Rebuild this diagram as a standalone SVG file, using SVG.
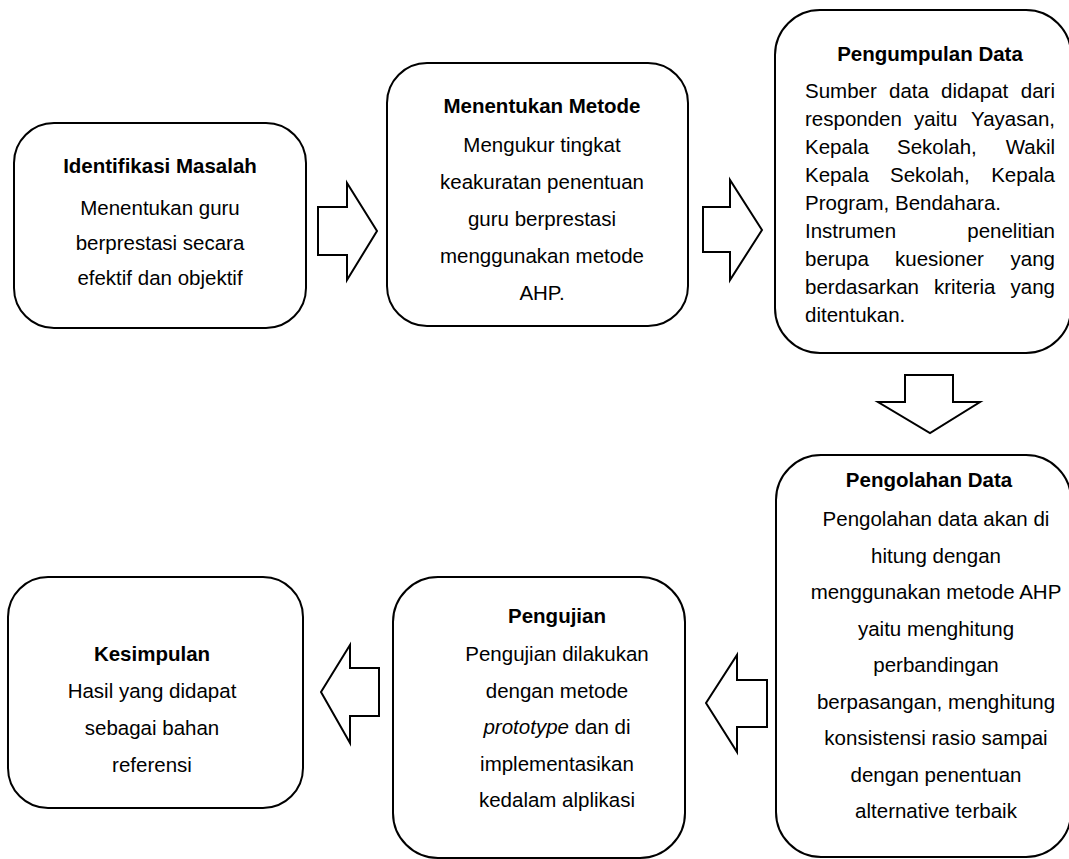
<svg xmlns="http://www.w3.org/2000/svg" width="1069" height="859" viewBox="0 0 1069 859">
<style>
.box{fill:#fff;stroke:#000;stroke-width:2}
.arr{fill:#fff;stroke:#000;stroke-width:2;stroke-linejoin:miter}
text{font-family:"Liberation Sans",Arial,sans-serif;font-size:20.5px;fill:#000}
.c{text-anchor:middle}
.t{font-weight:bold}
.e{text-anchor:end}
</style>
<rect width="1069" height="859" fill="#fff"/>
<g id="n1">
<rect class="box" x="14" y="123" width="292" height="205" rx="40"/>
<text class="c t" x="160" y="173">Identifikasi Masalah</text>
<text class="c" x="160" y="215">Menentukan guru</text>
<text class="c" x="160" y="250">berprestasi secara</text>
<text class="c" x="160" y="285">efektif dan objektif</text>
</g>
<g id="n2">
<rect class="box" x="387" y="63" width="301" height="263" rx="40"/>
<text class="c t" x="542" y="113">Menentukan Metode</text>
<text class="c" x="542" y="152">Mengukur  tingkat</text>
<text class="c" x="542" y="189">keakuratan penentuan</text>
<text class="c" x="542" y="226">guru berprestasi</text>
<text class="c" x="542" y="263">menggunakan metode</text>
<text class="c" x="542" y="300">AHP.</text>
</g>
<g id="n3">
<rect class="box" x="775" y="10" width="296" height="343" rx="45"/>
<text class="c t" x="930" y="61">Pengumpulan Data</text>
<text x="805" y="98">Sumber</text><text x="889" y="98">data</text><text x="941" y="98">didapat</text><text class="e" x="1055" y="98">dari</text>
<text x="805" y="126">responden</text><text x="914" y="126">yaitu</text><text class="e" x="1055" y="126">Yayasan,</text>
<text x="805" y="154">Kepala</text><text x="897" y="154">Sekolah,</text><text class="e" x="1055" y="154">Wakil</text>
<text x="805" y="182">Kepala</text><text x="890" y="182">Sekolah,</text><text class="e" x="1055" y="182">Kepala</text>
<text x="805" y="210">Program, Bendahara.</text>
<text x="805" y="238">Instrumen</text><text class="e" x="1055" y="238">penelitian</text>
<text x="805" y="266">berupa</text><text x="895" y="266">kuesioner</text><text class="e" x="1055" y="266">yang</text>
<text x="805" y="294">berdasarkan</text><text x="934" y="294">kriteria</text><text class="e" x="1055" y="294">yang</text>
<text x="805" y="322">ditentukan.</text>
</g>
<g id="n4">
<rect class="box" x="776" y="455" width="295" height="402" rx="45"/>
<text class="c t" x="929" y="487">Pengolahan Data</text>
<text class="c" x="936" y="526">Pengolahan data akan di</text>
<text class="c" x="936" y="562.5">hitung dengan</text>
<text class="c" x="936" y="599">menggunakan metode AHP</text>
<text class="c" x="936" y="635.5">yaitu menghitung</text>
<text class="c" x="936" y="672">perbandingan</text>
<text class="c" x="936" y="708.5">berpasangan, menghitung</text>
<text class="c" x="936" y="745">konsistensi rasio sampai</text>
<text class="c" x="936" y="781.5">dengan penentuan</text>
<text class="c" x="936" y="818">alternative terbaik</text>
</g>
<g id="n5">
<rect class="box" x="393" y="577" width="292" height="281" rx="45"/>
<text class="c t" x="557" y="623">Pengujian</text>
<text class="c" x="557" y="661">Pengujian dilakukan</text>
<text class="c" x="557" y="697.5">dengan metode</text>
<text class="c" x="557" y="734"><tspan font-style="italic">prototype</tspan> dan di</text>
<text class="c" x="557" y="770.5">implementasikan</text>
<text class="c" x="557" y="807">kedalam alplikasi</text>
</g>
<g id="n6">
<rect class="box" x="8" y="577" width="295" height="231" rx="40"/>
<text class="c t" x="152" y="661">Kesimpulan</text>
<text class="c" x="152" y="698">Hasil yang didapat</text>
<text class="c" x="152" y="735">sebagai bahan</text>
<text class="c" x="152" y="772">referensi</text>
</g>
<g id="connectors">
<polygon class="arr" points="318,207 347,207 347,183 377,231 347,280 347,255 318,255"/>
<polygon class="arr" points="703,207 730,207 730,180 762,230 730,280 730,252 703,252"/>
<polygon class="arr" points="905,375 953,375 953,402 980,402 930,433 878,402 905,402"/>
<polygon class="arr" points="767,680 737,680 737,655 706,703 737,752 737,727 767,727"/>
<polygon class="arr" points="379,668 350,668 350,645 321,692 350,743 350,716 379,716"/>
</g>
</svg>
